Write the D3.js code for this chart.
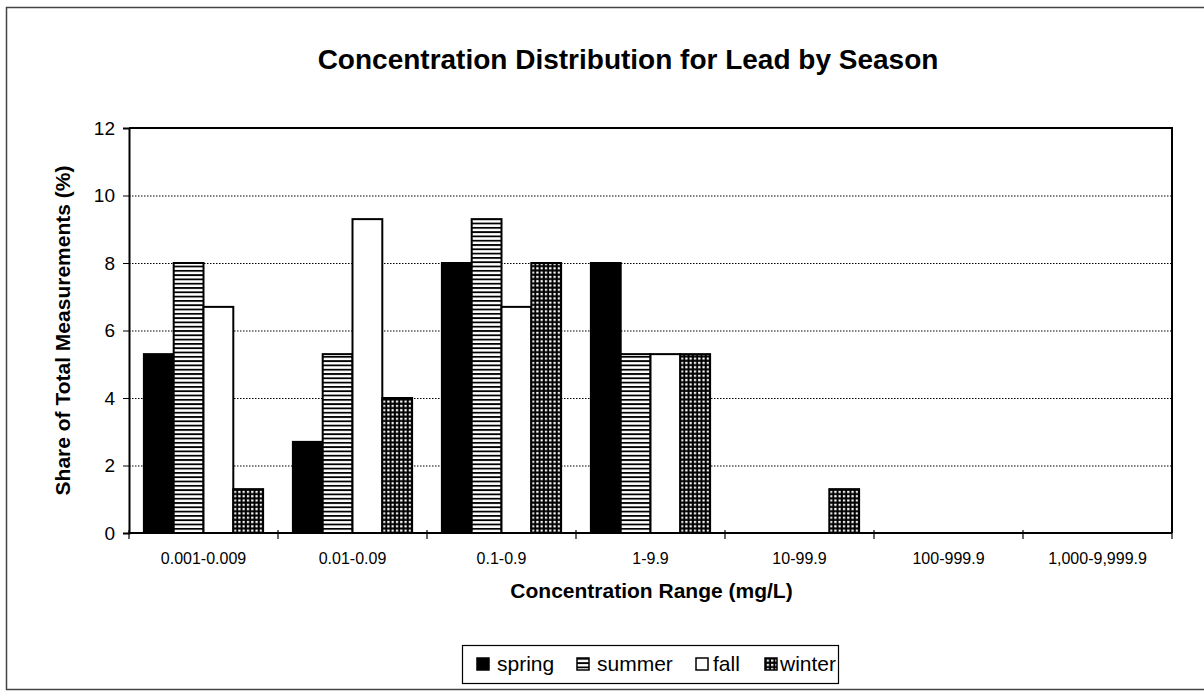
<!DOCTYPE html>
<html>
<head>
<meta charset="utf-8">
<script src="https://cdn.jsdelivr.net/npm/d3@7"></script>
<style>
  body { margin: 0; background: #fff; }
  text { font-family: "Liberation Sans", Arial, sans-serif; fill: #000; }
</style>
</head>
<body>
<svg id="chart" width="1204" height="691"></svg>
<script>
var categories = ["0.001-0.009", "0.01-0.09", "0.1-0.9", "1-9.9", "10-99.9", "100-999.9", "1,000-9,999.9"];
var seasons = ["spring", "summer", "fall", "winter"];
var spring = [5.3, 2.7, 8.0, 8.0, 0, 0, 0];
var summer = [8.0, 5.3, 9.3, 5.3, 0, 0, 0];
var fall   = [6.7, 9.3, 6.7, 5.3, 0, 0, 0];
var winter = [1.3, 4.0, 8.0, 5.3, 1.3, 0, 0];
var yTicks = [0, 2, 4, 6, 8, 10, 12];

var series = [spring, summer, fall, winter];

var margin = {top: 128, right: 32, bottom: 158, left: 129},
    width  = 1204 - margin.left - margin.right,
    height = 691 - margin.top - margin.bottom;

var svg = d3.select("#chart");

// outer frame (right side runs off the page)
svg.append("rect")
    .attr("x", 6.5).attr("y", 7.5)
    .attr("width", 1210).attr("height", 682)
    .attr("fill", "none")
    .attr("stroke", "#444")
    .attr("stroke-width", 1.5);

// patterns
var defs = svg.append("defs");
var pStripe = defs.append("pattern")
    .attr("id", "stripes")
    .attr("patternUnits", "userSpaceOnUse")
    .attr("width", 4).attr("height", 4.3);
pStripe.append("rect").attr("width", 4).attr("height", 4.3).attr("fill", "#fff");
pStripe.append("rect").attr("y", 0).attr("width", 4).attr("height", 1.8).attr("fill", "#000");

var pGrid = defs.append("pattern")
    .attr("id", "grid")
    .attr("patternUnits", "userSpaceOnUse")
    .attr("width", 4.3).attr("height", 4.3);
pGrid.append("rect").attr("width", 4.3).attr("height", 4.3).attr("fill", "#000");
pGrid.append("rect").attr("x", 1.8).attr("y", 1.6).attr("width", 2.2).attr("height", 2.2).attr("fill", "#fff");

var fills = ["#000", "url(#stripes)", "#fff", "url(#grid)"];

var g = svg.append("g")
    .attr("transform", "translate(" + margin.left + "," + margin.top + ")");

var x0 = d3.scaleBand().domain(categories).range([0, width]).paddingInner(0).paddingOuter(0);
var x1 = d3.scaleBand().domain(seasons).range([0, x0.bandwidth()]).paddingOuter(0.5).paddingInner(0);
var y = d3.scaleLinear().domain([0, 12]).range([height, 0]);

// gridlines
g.selectAll(".grid")
    .data(yTicks.filter(function(d) { return d > 0 && d < 12; }))
  .enter().append("line")
    .attr("x1", 0).attr("x2", width)
    .attr("y1", function(d) { return y(d) + 0.5; })
    .attr("y2", function(d) { return y(d) + 0.5; })
    .attr("stroke", "#000")
    .attr("stroke-width", 1)
    .attr("stroke-dasharray", "1.5,1.5");

// bars
var groups = g.selectAll(".cat")
    .data(categories)
  .enter().append("g")
    .attr("transform", function(d) { return "translate(" + x0(d) + ",0)"; });

groups.selectAll("rect")
    .data(function(d, i) {
      return seasons.map(function(s, j) { return {season: s, idx: j, value: series[j][i]}; });
    })
  .enter().filter(function(d) { return d.value > 0; }).append("rect")
    .attr("x", function(d) { return x1(d.season); })
    .attr("y", function(d) { return y(d.value); })
    .attr("width", x1.bandwidth())
    .attr("height", function(d) { return height - y(d.value); })
    .attr("fill", function(d) { return fills[d.idx]; })
    .attr("stroke", "#000")
    .attr("stroke-width", 2);

// plot frame top/right
g.append("path")
    .attr("d", "M0,0H" + width + "V" + height)
    .attr("fill", "none")
    .attr("stroke", "#000")
    .attr("stroke-width", 2);

// y axis
var yAxis = g.append("g")
    .call(d3.axisLeft(y).tickValues(yTicks).tickSize(6).tickPadding(8).tickFormat(d3.format("d")));
yAxis.select(".domain").attr("stroke-width", 2);
yAxis.selectAll("text").style("font-size", "19px");

// x axis: ticks at category boundaries
var xAxis = g.append("g")
    .attr("transform", "translate(0," + height + ")");
xAxis.append("line")
    .attr("x1", 0).attr("x2", width)
    .attr("stroke", "#000").attr("stroke-width", 2);
xAxis.selectAll(".tick")
    .data(categories.concat(["end"]))
  .enter().append("line")
    .attr("x1", function(d, i) { return i * x0.step(); })
    .attr("x2", function(d, i) { return i * x0.step(); })
    .attr("y1", -3).attr("y2", 6)
    .attr("stroke", "#000").attr("stroke-width", 1.2);
xAxis.selectAll(".lbl")
    .data(categories)
  .enter().append("text")
    .attr("x", function(d) { return x0(d) + x0.bandwidth() / 2; })
    .attr("y", 31)
    .style("text-anchor", "middle")
    .style("font-size", "16px")
    .text(function(d) { return d; });

// title
svg.append("text")
    .attr("x", 628).attr("y", 69)
    .style("text-anchor", "middle")
    .style("font-size", "28px")
    .style("font-weight", "bold")
    .text("Concentration Distribution for Lead by Season");

// axis titles
svg.append("text")
    .attr("x", margin.left + width / 2 + 1).attr("y", 598)
    .style("text-anchor", "middle")
    .style("font-size", "21px")
    .style("font-weight", "bold")
    .text("Concentration Range (mg/L)");

svg.append("text")
    .attr("transform", "translate(70," + (margin.top + height / 2) + ") rotate(-90)")
    .style("text-anchor", "middle")
    .style("font-size", "21px")
    .style("font-weight", "bold")
    .text("Share of Total Measurements (%)");

// legend
var legend = svg.append("g").attr("transform", "translate(462,645)");
legend.append("rect")
    .attr("x", 0.5).attr("y", 0.5)
    .attr("width", 376).attr("height", 38)
    .attr("fill", "#fff")
    .attr("stroke", "#000")
    .attr("stroke-width", 1.2);
var legendX = [15, 115, 234, 303];
var legendGap = [20, 20, 17, 15];
var items = legend.selectAll(".item")
    .data(seasons)
  .enter().append("g")
    .attr("transform", function(d, i) { return "translate(" + legendX[i] + ",0)"; });
items.append("rect")
    .attr("x", 0).attr("y", 13)
    .attr("width", 12).attr("height", 12)
    .attr("fill", function(d, i) { return fills[i]; })
    .attr("stroke", "#000")
    .attr("stroke-width", 1.5);
items.append("text")
    .attr("x", function(d, i) { return legendGap[i]; }).attr("y", 26)
    .style("font-size", "21px")
    .text(function(d) { return d; });
</script>
</body>
</html>
